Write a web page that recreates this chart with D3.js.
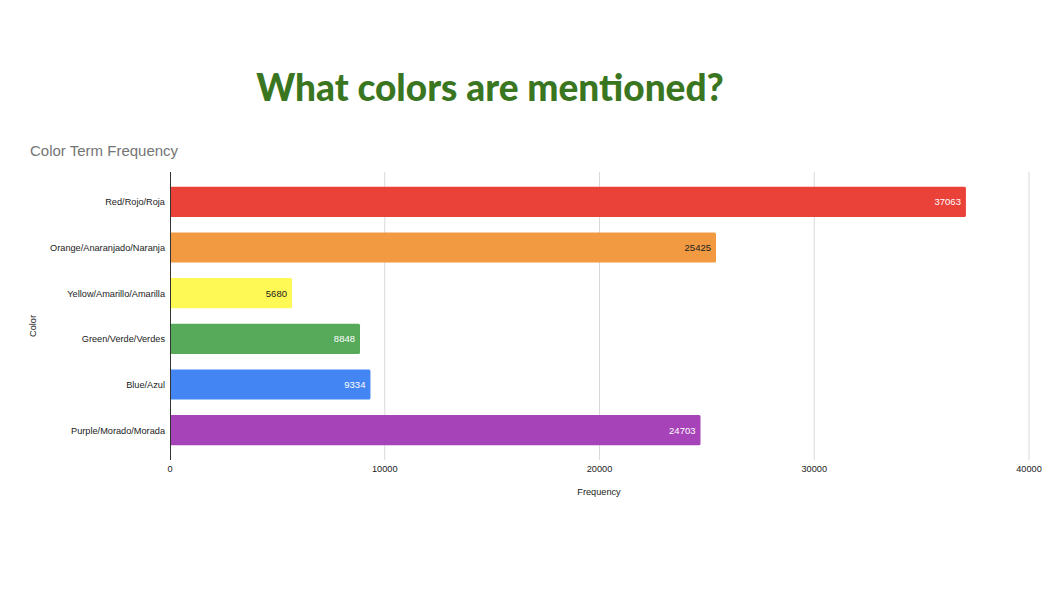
<!DOCTYPE html>
<html><head><meta charset="utf-8">
<script src="https://cdn.jsdelivr.net/npm/d3@7"></script>
<style>body{margin:0;background:#fff;}svg{display:block;font-family:Arial,"Liberation Sans",sans-serif;}</style>
</head><body>
<svg id="c" width="1062" height="592"></svg>
<script>
const categories = ["Red/Rojo/Roja","Orange/Anaranjado/Naranja","Yellow/Amarillo/Amarilla","Green/Verde/Verdes","Blue/Azul","Purple/Morado/Morada"];
const values = [37063,25425,5680,8848,9334,24703];
const barColors = ["#ea4139","#f19a42","#fff955","#56aa59","#4385f3","#a643b8"];
const labelColors = ["#fff","#222","#222","#fff","#fff","#fff"];
const xTicks = [0,10000,20000,30000,40000];

(function(){
const svg = d3.select("#c");
const mLeft = 170, mRight = 1029, mTop = 179, mBottom = 453;
const x = d3.scaleLinear().domain([0,40000]).range([mLeft,mRight]);
const y = d3.scaleBand().domain(categories).range([mTop,mBottom]).paddingInner(0.34).paddingOuter(0.17);

svg.append("text").attr("x",490).attr("y",101).attr("text-anchor","middle")
  .attr("font-family","Lato, 'Open Sans', sans-serif").attr("font-weight",900).attr("font-size",37)
  .attr("fill","#3a761f").text("What colors are mentioned?");
svg.append("text").attr("x",30).attr("y",156).attr("font-size",15).attr("fill","#757575").text("Color Term Frequency");

svg.append("g").selectAll("line").data(xTicks.slice(1)).join("line")
  .attr("x1",d=>x(d)).attr("x2",d=>x(d)).attr("y1",172).attr("y2",460)
  .attr("stroke","#d9d9d9").attr("stroke-width",1);

svg.append("g").selectAll("rect").data(values).join("rect")
  .attr("x",x(0)).attr("y",(d,i)=>y(categories[i]))
  .attr("width",d=>x(d)-x(0)).attr("height",y.bandwidth())
  .attr("rx",1.5).attr("fill",(d,i)=>barColors[i]);

svg.append("g").selectAll("text").data(values).join("text")
  .attr("x",d=>x(d)-5).attr("y",(d,i)=>y(categories[i])+y.bandwidth()/2+3.5)
  .attr("text-anchor","end").attr("font-size",9.5).attr("fill",(d,i)=>labelColors[i]).text(d=>d);

svg.append("line").attr("x1",mLeft+0.5).attr("x2",mLeft+0.5).attr("y1",172).attr("y2",460).attr("stroke","#333");

svg.append("g").selectAll("text").data(categories).join("text")
  .attr("x",mLeft-5).attr("y",d=>y(d)+y.bandwidth()/2+3.5).attr("text-anchor","end")
  .attr("font-size",9.2).attr("fill","#222").text(d=>d);

svg.append("g").selectAll("text").data(xTicks).join("text")
  .attr("x",d=>x(d)).attr("y",472).attr("text-anchor","middle").attr("font-size",9.2).attr("fill","#222")
  .text(d=>d);

svg.append("text").attr("x",599).attr("y",495).attr("text-anchor","middle").attr("font-size",9.2).attr("fill","#222").text("Frequency");
svg.append("text").attr("transform","translate(36,326) rotate(-90)").attr("text-anchor","middle")
  .attr("font-size",9.2).attr("fill","#222").text("Color");
})();
</script>
</body></html>
